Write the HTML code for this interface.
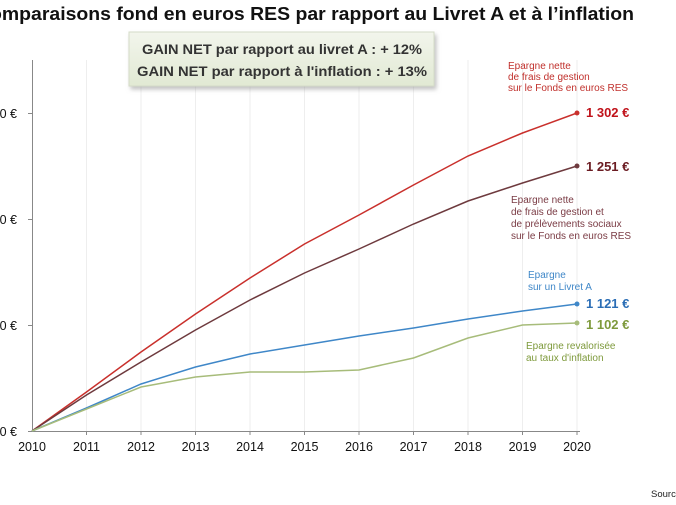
<!DOCTYPE html>
<html><head><meta charset="utf-8"><style>
html,body{margin:0;padding:0;background:#fff;width:676px;height:505px;overflow:hidden}
svg{display:block;font-family:"Liberation Sans",sans-serif}
</style></head><body>
<svg width="676" height="505" viewBox="0 0 676 505">
<defs><linearGradient id="g" x1="0" y1="0" x2="0" y2="1"><stop offset="0" stop-color="#f2f5ec"/><stop offset="1" stop-color="#e1e9d3"/></linearGradient>
<filter id="s" x="-5%" y="-10%" width="115%" height="140%"><feDropShadow dx="2" dy="3" stdDeviation="2" flood-color="#999" flood-opacity="0.6"/></filter></defs>
<text x="634" y="20" text-anchor="end" font-size="18" font-weight="bold" fill="#111" textLength="658" lengthAdjust="spacingAndGlyphs">Comparaisons fond en euros RES par rapport au Livret A et à l’inflation</text>
<g stroke="#eeeeee" stroke-width="1">
<line x1="86.5" y1="60" x2="86.5" y2="431"/><line x1="141" y1="60" x2="141" y2="431"/><line x1="195.5" y1="60" x2="195.5" y2="431"/><line x1="250" y1="60" x2="250" y2="431"/><line x1="304.5" y1="60" x2="304.5" y2="431"/><line x1="359" y1="60" x2="359" y2="431"/><line x1="413.5" y1="60" x2="413.5" y2="431"/><line x1="468" y1="60" x2="468" y2="431"/><line x1="522.5" y1="60" x2="522.5" y2="431"/><line x1="577" y1="60" x2="577" y2="431"/>
</g>
<g stroke="#888" stroke-width="1">
<line x1="32.5" y1="60" x2="32.5" y2="431"/><line x1="28" y1="431.5" x2="580" y2="431.5"/>
<line x1="28" y1="113.5" x2="32" y2="113.5"/><line x1="28" y1="219.5" x2="32" y2="219.5"/><line x1="28" y1="325.5" x2="32" y2="325.5"/>
<line x1="86.5" y1="431" x2="86.5" y2="435"/><line x1="141" y1="431" x2="141" y2="435"/><line x1="195.5" y1="431" x2="195.5" y2="435"/><line x1="250" y1="431" x2="250" y2="435"/><line x1="304.5" y1="431" x2="304.5" y2="435"/><line x1="359" y1="431" x2="359" y2="435"/><line x1="413.5" y1="431" x2="413.5" y2="435"/><line x1="468" y1="431" x2="468" y2="435"/><line x1="522.5" y1="431" x2="522.5" y2="435"/><line x1="577" y1="431" x2="577" y2="435"/>
</g>
<g font-size="12.5" fill="#111">
<text x="17" y="118" text-anchor="end">1 300 €</text><text x="17" y="224" text-anchor="end">1 200 €</text><text x="17" y="330" text-anchor="end">1 100 €</text><text x="17" y="436" text-anchor="end">1 000 €</text>
</g>
<g font-size="12.5" fill="#111" text-anchor="middle">
<text x="32" y="451">2010</text><text x="86.5" y="451">2011</text><text x="141" y="451">2012</text><text x="195.5" y="451">2013</text><text x="250" y="451">2014</text><text x="304.5" y="451">2015</text><text x="359" y="451">2016</text><text x="413.5" y="451">2017</text><text x="468" y="451">2018</text><text x="522.5" y="451">2019</text><text x="577" y="451">2020</text>
</g>
<g fill="none" stroke-width="1.5">
<polyline stroke="#c9302c" points="32,431 86.5,392 141,352 195.5,314 250,278 304.5,244 359,215 413.5,185 468,156 522.5,133 577,113"/>
<polyline stroke="#6e3a3e" points="32,431 86.5,395 141,362 195.5,330 250,300 304.5,273 359,249 413.5,224 468,201 522.5,183 577,166"/>
<polyline stroke="#3f87c8" points="32,431 86.5,408 141,384 195.5,367 250,354 304.5,345 359,336 413.5,328 468,319 522.5,311 577,304"/>
<polyline stroke="#a7bc7a" points="32,431 86.5,409 141,387 195.5,377 250,372 304.5,372 359,370 413.5,358 468,338 522.5,325 577,323"/>
</g>
<circle cx="577" cy="113" r="2.5" fill="#c9302c"/><circle cx="577" cy="166" r="2.5" fill="#6e3a3e"/><circle cx="577" cy="304" r="2.5" fill="#3f87c8"/><circle cx="577" cy="323" r="2.5" fill="#a7bc7a"/>
<g font-size="13" font-weight="bold">
<text x="586" y="117" fill="#c0121a">1 302 €</text><text x="586" y="171" fill="#6b1c22">1 251 €</text><text x="586" y="308" fill="#2a6db5">1 121 €</text><text x="586" y="329" fill="#7e9a3c">1 102 €</text>
</g>
<g font-size="10">
<text fill="#c0302c"><tspan x="508" y="69">Epargne nette</tspan><tspan x="508" y="80">de frais de gestion</tspan><tspan x="508" y="91">sur le Fonds en euros RES</tspan></text>
<text fill="#7a3b44"><tspan x="511" y="203">Epargne nette</tspan><tspan x="511" y="215">de frais de gestion et</tspan><tspan x="511" y="227">de prélèvements sociaux</tspan><tspan x="511" y="239">sur le Fonds en euros RES</tspan></text>
<text fill="#3f87c8"><tspan x="528" y="278">Epargne</tspan><tspan x="528" y="290">sur un Livret A</tspan></text>
<text fill="#7e9a3c"><tspan x="526" y="349">Epargne revalorisée</tspan><tspan x="526" y="361">au taux d'inflation</tspan></text>
</g>
<rect x="129" y="32" width="305" height="54" fill="url(#g)" stroke="#d5dcc8" filter="url(#s)"/>
<g font-size="14" font-weight="bold" fill="#333" text-anchor="middle">
<text x="282" y="54" textLength="280" lengthAdjust="spacingAndGlyphs">GAIN NET par rapport au livret A : + 12%</text>
<text x="282" y="76" textLength="290" lengthAdjust="spacingAndGlyphs">GAIN NET par rapport à l'inflation : + 13%</text>
</g>
<text x="651" y="497" font-size="9.5" fill="#222">Source</text>
</svg>
</body></html>
